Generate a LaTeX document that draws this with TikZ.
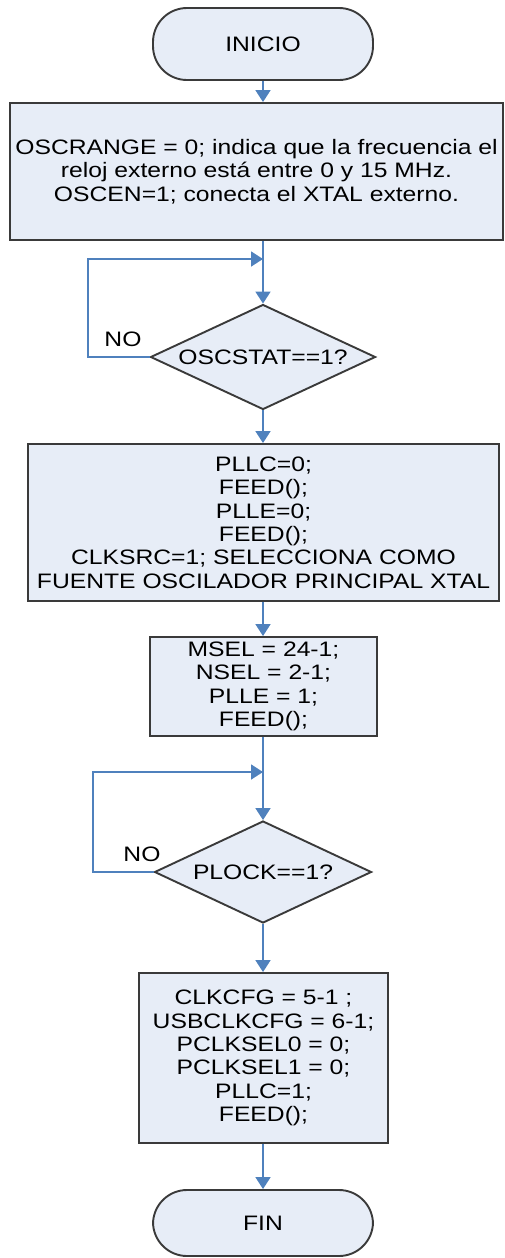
\documentclass[tikz,border=0pt]{standalone}
\usepackage{fontspec}
\setmainfont[FakeStretch=1.18]{Liberation Sans}
\usetikzlibrary{shapes.geometric,arrows.meta}
\definecolor{boxfill}{HTML}{E7EDF7}
\definecolor{boxline}{HTML}{3A3A3A}
\definecolor{flow}{HTML}{4F81BD}

\begin{document}
\begin{tikzpicture}[x=1bp,y=-1bp,
  every node/.style={font=\fontsize{21}{23.5}\selectfont, text=black},
  term/.style={draw=boxline, fill=boxfill, line width=1.9bp, rounded corners=34bp,
    minimum width=220bp, inner sep=0pt},
  procbox/.style={draw=boxline, fill=boxfill, line width=1.9bp, rectangle,
    align=center, inner sep=0pt},
  decision/.style={draw=boxline, fill=boxfill, line width=1.9bp, diamond, aspect=2.1,
    inner sep=0pt},
  flowline/.style={draw=flow, line width=1.8bp},
  arr/.style={flowline, -{Triangle[width=15bp,length=12bp]}},
  lbl/.style={inner sep=0pt}
]
\useasboundingbox (0,0) rectangle (505,1258);

% start / end
\node[term, minimum height=72bp] (start) at (263,44) {INICIO};

% oscillator setup
\node[procbox, minimum width=493bp, minimum height=137bp] (b1) at (256.5,171.5)
  {OSCRANGE = 0; indica que la frecuencia el\\
   reloj externo está entre 0 y 15 MHz.\\
   OSCEN=1; conecta el XTAL externo.};

% wait for the oscillator
\coordinate (j1) at (263,259);
\coordinate (c1) at (88,259);
\node[decision, minimum width=225bp, minimum height=105bp] (d1) at (263,357) {OSCSTAT==1?};
\node[lbl] (no1) at (123,339) {NO};

% PLL disconnect and clock source
\node[procbox, minimum width=471bp, minimum height=157bp] (b2) at (263.5,522.5)
  {PLLC=0;\\ FEED();\\ PLLE=0;\\ FEED();\\
   CLKSRC=1; SELECCIONA COMO\\ FUENTE OSCILADOR PRINCIPAL XTAL};

% PLL configuration
\node[procbox, minimum width=227bp, minimum height=99bp] (b3) at (263.5,686.5)
  {MSEL = 24-1;\\ NSEL = 2-1;\\ PLLE = 1;\\ FEED();};

% wait for PLL lock
\coordinate (j2) at (263,772);
\coordinate (c2) at (93,772);
\node[decision, minimum width=217bp, minimum height=102bp] (d2) at (263,872) {PLOCK==1?};
\node[lbl] (no2) at (142,854) {NO};

% dividers and PLL connect
\node[procbox, minimum width=249bp, minimum height=170bp] (b4) at (263.5,1058)
  {CLKCFG = 5-1 ;\\ USBCLKCFG = 6-1;\\ PCLKSEL0 = 0;\\ PCLKSEL1 = 0;\\ PLLC=1;\\ FEED();};

\node[term, minimum height=66bp] (fin) at (263,1223) {FIN};

% flow
\draw[arr] (start) -- (start |- b1.north);
\draw[arr] (d1 |- b1.south) -- (d1.north);
\draw[arr] (d1.west) -| (c1) -- (j1);
\draw[arr] (d1.south) -- (d1 |- b2.north);
\draw[arr] (d1 |- b2.south) -- (d1 |- b3.north);
\draw[arr] (d2 |- b3.south) -- (d2.north);
\draw[arr] (d2.west) -| (c2) -- (j2);
\draw[arr] (d2.south) -- (d2 |- b4.north);
\draw[arr] (fin |- b4.south) -- (fin.north);
\end{tikzpicture}
\end{document}
